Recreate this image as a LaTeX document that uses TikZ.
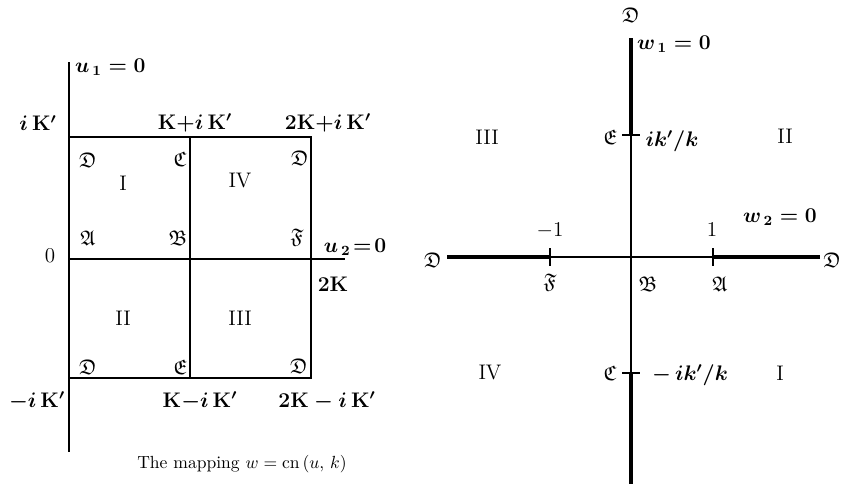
\documentclass[tikz,border=0pt]{standalone}
\usepackage{amsmath}
\usepackage{amssymb}
\usepackage{tikz}

\tikzset{
  axis/.style={line width=0.8pt},
  edge/.style={line width=1.3pt},
  cut/.style={line width=2.2pt},
  lbl/.style={font=\large, inner sep=1pt},
  blbl/.style={font=\large\boldmath, inner sep=1pt},
}

\begin{document}
\begin{tikzpicture}[x=0.02cm, y=-0.02cm]
        \useasboundingbox (0,0) rectangle (844,484);

        % u-plane
        \begin{scope}
            \coordinate (ua) at (69,62);
            \coordinate (ub) at (69,452);
            \coordinate (uo) at (69,259);
            \coordinate (ur) at (345,259);
            \coordinate (tl) at (69,137);
            \coordinate (tm) at (190,137);
            \coordinate (tr) at (311,137);
            \coordinate (mr) at (311,259);
            \coordinate (bl) at (69,378);
            \coordinate (bm) at (190,378);
            \coordinate (br) at (311,378);

            \draw[axis] (ua) -- (ub);
            \draw[axis] (uo) -- (ur);
            \draw[edge] (tl) -- (tr) -- (br) -- (bl);
            \draw[edge] (tm) -- (bm);

            \node[blbl, anchor=west] (u1) at (73,67) {$u_{\,1}=0$};
            \node[blbl] (u2) at (355,247) {$u_{\,2}\!=\!0$};
            \node[blbl] (ik) at (38,123) {$i\,\mathbf{K}'$};
            \node[blbl] (kik) at (195,123) {$\mathbf{K}{+}i\,\mathbf{K}'$};
            \node[blbl] (tkik) at (328,123) {$2\mathbf{K}{+}i\,\mathbf{K}'$};
            \node[lbl] (zero) at (50,256) {$0$};
            \node[blbl] (tk) at (333,284) {$2\mathbf{K}$};
            \node[blbl] (mik) at (37,401) {$-i\,\mathbf{K}'$};
            \node[blbl] (kmik) at (200,401) {$\mathbf{K}{-}i\,\mathbf{K}'$};
            \node[blbl] (tkmik) at (327,401) {$2\mathbf{K}-i\,\mathbf{K}'$};

            \node[lbl] (rI) at (123,183) {I};
            \node[lbl] (rIV) at (240,181) {IV};
            \node[lbl] (rII) at (123,318) {II};
            \node[lbl] (rIII) at (240,318) {III};

            \node[lbl] (d1) at (88,160) {$\mathfrak{D}$};
            \node[lbl] (c1) at (180,159) {$\mathfrak{C}$};
            \node[lbl] (d2) at (300,158) {$\mathfrak{D}$};
            \node[lbl] (a1) at (88,238) {$\mathfrak{A}$};
            \node[lbl] (b1) at (178,238) {$\mathfrak{B}$};
            \node[lbl] (f1) at (297,238) {$\mathfrak{F}$};
            \node[lbl] (d3) at (88,367) {$\mathfrak{D}$};
            \node[lbl] (e1) at (180,367) {$\mathfrak{E}$};
            \node[lbl] (d4) at (299,366) {$\mathfrak{D}$};

            \node[inner sep=1pt] (cap) at (242,464) {The mapping $w=\mathrm{cn}\,(u,\,k)$};
        \end{scope}

        % w-plane
        \begin{scope}
            \coordinate (wt) at (631,38);
            \coordinate (we) at (631,135);
            \coordinate (wc) at (631,373);
            \coordinate (wb) at (631,484);
            \coordinate (wl) at (447,257);
            \coordinate (wf) at (550,257);
            \coordinate (wa) at (713,257);
            \coordinate (wr) at (820,257);

            \draw[cut] (wt) -- (we);
            \draw[axis] (we) -- (wc);
            \draw[cut] (wc) -- (wb);
            \draw[cut] (wl) -- (wf);
            \draw[axis] (wf) -- (wa);
            \draw[cut] (wa) -- (wr);
            \draw[axis] ([xshift=-5]we) -- ([xshift=5]we);
            \draw[axis] ([xshift=-5]wc) -- ([xshift=5]wc);
            \draw[axis] ([yshift=-5]wf) -- ([yshift=5]wf);
            \draw[axis] ([yshift=-5]wa) -- ([yshift=5]wa);

            \node[lbl] (dt) at (631,15) {$\mathfrak{D}$};
            \node[blbl] (w1) at (674,44) {$w_{\,1}=0$};
            \node[lbl] (e2) at (610,137) {$\mathfrak{E}$};
            \node[blbl] (ikk) at (672,141) {$ik'/k$};
            \node[lbl] (sIII) at (487,137) {III};
            \node[lbl] (sII) at (785,136) {II};
            \node[lbl] (m1) at (550,231) {$-1$};
            \node[lbl] (p1) at (712,230) {$1$};
            \node[blbl] (w2) at (780,217) {$w_{\,2}=0$};
            \node[lbl] (dl) at (433,260) {$\mathfrak{D}$};
            \node[lbl] (dr) at (832,260) {$\mathfrak{D}$};
            \node[lbl] (f2) at (550,283) {$\mathfrak{F}$};
            \node[lbl] (b2) at (648,284) {$\mathfrak{B}$};
            \node[lbl] (a2) at (720,284) {$\mathfrak{A}$};
            \node[lbl] (sIV) at (490,373) {IV};
            \node[lbl] (c2) at (610,373) {$\mathfrak{C}$};
            \node[blbl] (mikk) at (690,375) {$-\,ik'/k$};
            \node[lbl] (sI) at (780,373) {I};
        \end{scope}
    \end{tikzpicture}
\end{document}
